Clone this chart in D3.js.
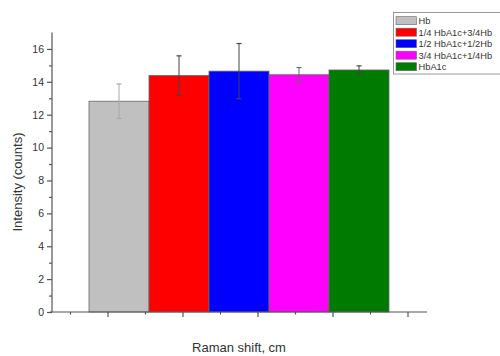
<!DOCTYPE html>
<html>
<head>
<meta charset="utf-8">
<script src="https://cdn.jsdelivr.net/npm/d3@7/dist/d3.min.js"></script>
<style>
  html, body { margin: 0; padding: 0; background: #fff; }
  svg { display: block; font-family: "Liberation Sans", Arial, sans-serif; }
</style>
</head>
<body>
<svg id="chart" width="500" height="356"></svg>
<script>
// ---- data ----
const categories = ["Hb", "1/4 HbA1c+3/4Hb", "1/2 HbA1c+1/2Hb", "3/4 HbA1c+1/4Hb", "HbA1c"];
const values = [12.82, 14.38, 14.65, 14.43, 14.72];
const errors = [1.05, 1.2, 1.68, 0.44, 0.25];
const yTicks = [0, 2, 4, 6, 8, 10, 12, 14, 16];
const yMinorTicks = [1, 3, 5, 7, 9, 11, 13, 15];
const xMajorTicks = [2, 4, 6, 8, 10];
const xMinorTicks = [1, 3, 5, 7, 9];

// ---- styles ----
const colors = ["#c0c0c0", "#ff0000", "#0000ff", "#ff00ff", "#007a00"];
const errColors = ["#a8a8a8", "#444", "#444", "#666", "#444"];
const axisColor = "#555";
const textColor = "#333";

const svg = d3.select("#chart");

const y = d3.scaleLinear().domain([0, 17]).range([312, 32.5]);
const xAxisScale = d3.scaleLinear().domain([0.467, 10.52]).range([50, 427]);
const xBand = d3.scaleBand().domain(categories).range([89, 389]).padding(0);

// bars
svg.append("g").selectAll("rect").data(categories).join("rect")
  .attr("x", d => xBand(d))
  .attr("y", (d, i) => y(values[i]))
  .attr("width", xBand.bandwidth())
  .attr("height", (d, i) => y(0) - y(values[i]))
  .attr("fill", (d, i) => colors[i])
  .attr("stroke", "#666")
  .attr("stroke-width", 0.8);

// error bars
const eg = svg.append("g");
categories.forEach((c, i) => {
  const cx = xBand(c) + xBand.bandwidth() / 2;
  const top = y(values[i] + errors[i]);
  const bot = y(values[i] - errors[i]);
  eg.append("line").attr("x1", cx).attr("x2", cx).attr("y1", top).attr("y2", bot)
    .attr("stroke", errColors[i]).attr("stroke-width", 1);
  [top, bot].forEach(yy => {
    eg.append("line").attr("x1", cx - 2.5).attr("x2", cx + 2.5).attr("y1", yy).attr("y2", yy)
      .attr("stroke", errColors[i]).attr("stroke-width", 1.2);
  });
});

// y axis
const yAxisG = svg.append("g").attr("transform", "translate(52,0)")
  .call(d3.axisLeft(y).tickValues(yTicks).tickSize(5).tickPadding(3).tickFormat(d3.format("d")));
yAxisG.select(".domain").attr("d", `M0,${y(17)}V${y(0)}`);
svg.append("g").attr("transform", "translate(52,0)")
  .call(d3.axisLeft(y).tickValues(yMinorTicks).tickSize(3).tickFormat(""))
  .select(".domain").remove();

// x axis
const xAxisG = svg.append("g").attr("transform", `translate(0,${y(0)})`)
  .call(d3.axisBottom(xAxisScale).tickValues(xMajorTicks).tickSize(5).tickFormat(""));
xAxisG.select(".domain").attr("d", `M${xAxisScale.range()[0]},0H${xAxisScale.range()[1]}`);
svg.append("g").attr("transform", `translate(0,${y(0)})`)
  .call(d3.axisBottom(xAxisScale).tickValues(xMinorTicks).tickSize(2.5).tickFormat(""))
  .select(".domain").remove();

svg.selectAll(".domain, .tick line").attr("stroke", axisColor).attr("stroke-width", 1.2);
svg.selectAll(".tick text").attr("fill", textColor).attr("font-size", 10.5)
  .attr("font-family", "'Liberation Sans', Arial, sans-serif");

// axis titles
svg.append("text")
  .attr("transform", "translate(22,182) rotate(-90)")
  .attr("text-anchor", "middle")
  .attr("font-size", 13).attr("fill", textColor)
  .text("Intensity (counts)");
svg.append("text")
  .attr("x", 239).attr("y", 352)
  .attr("text-anchor", "middle")
  .attr("font-size", 13).attr("fill", textColor)
  .text("Raman shift, cm");

// legend
const lg = svg.append("g");
lg.append("rect").attr("x", 393.5).attr("y", 12.5).attr("width", 120).attr("height", 61.5)
  .attr("fill", "#fff").attr("stroke", "#999").attr("stroke-width", 1);
categories.forEach((c, i) => {
  const yy = 16.7 + i * 11.5;
  lg.append("rect").attr("x", 396).attr("y", yy).attr("width", 20.5).attr("height", 8)
    .attr("fill", colors[i]).attr("stroke", "#666").attr("stroke-width", 0.6);
  lg.append("text").attr("x", 418.5).attr("y", yy + 7.5)
    .attr("font-size", 9.3).attr("fill", textColor).text(c);
});
</script>
</body>
</html>
